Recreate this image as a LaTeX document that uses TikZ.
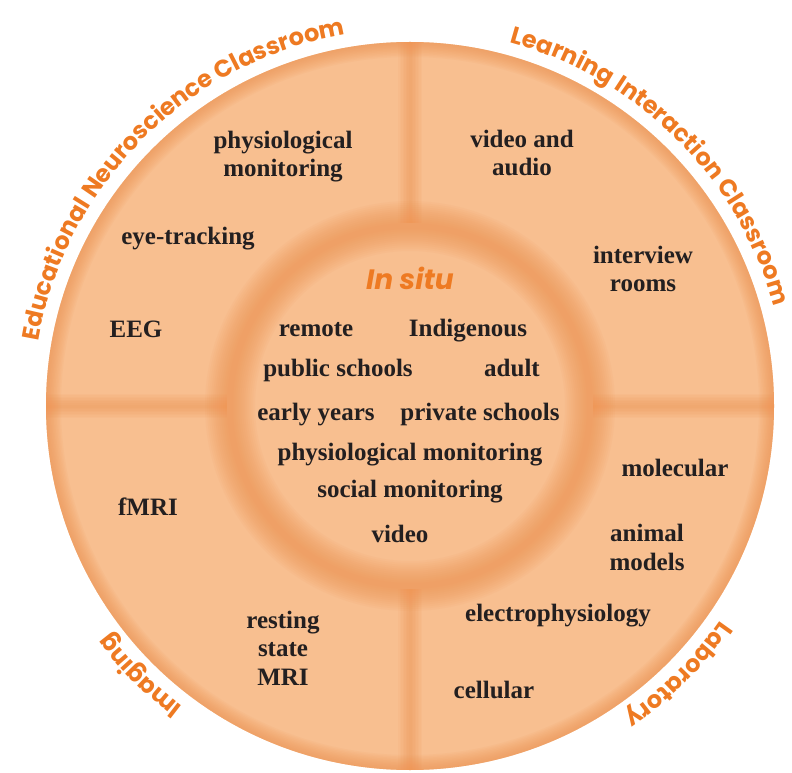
\documentclass[tikz,border=0pt]{standalone}
\usepackage{fontspec}
\setmainfont{Liberation Serif}
\newfontfamily\arcfont{Poppins}
\usetikzlibrary{decorations.text}
\definecolor{basefill}{HTML}{F8BF90}
\definecolor{edgeor}{HTML}{EF8F4C}
\definecolor{labelor}{HTML}{EE7A22}
\definecolor{inktext}{HTML}{231F20}
\tikzset{
  lbl/.style={font=\bfseries\fontsize{25}{28.5}\selectfont, text=inktext, align=center, inner sep=0pt, anchor=base},
  arclabel/.style={decorate, decoration={text along path, text align=center,
     text={|\arcfont\bfseries\fontsize{24}{28}\selectfont\color{labelor}|#1}}}
}
\begin{document}
\begin{tikzpicture}[x=1pt,y=1pt]
\useasboundingbox (0,0) rectangle (792,772);
\coordinate (C) at (410,366);
% outer disk
\fill[basefill] (C) circle[radius=364pt];
\begin{scope}
  \clip (C) circle[radius=364pt];
  \foreach \w in {30,27,...,3}
    \draw[edgeor, line width=\w pt, opacity=0.075] (C) circle[radius=364pt];
  \foreach \a in {0,90,180,270}{
    \foreach \w in {24,21,...,2}
      \draw[edgeor, line width=\w pt, opacity=0.065] ([shift={(\a:183)}]C) -- ([shift={(\a:364)}]C);
  }
  % inner disk
  \fill[basefill] (C) circle[radius=183pt];
  \foreach \w in {50,46,...,4}
    \draw[edgeor, line width=\w pt, opacity=0.065] (C) circle[radius=180pt];
\end{scope}

% curved labels
\path[arclabel={Educational Neuroscience Classroom}] ([shift={(180:377)}]C) arc[start angle=180, end angle=90, radius=377pt];
\path[arclabel={Learning Interaction Classroom}] ([shift={(90:377)}]C) arc[start angle=90, end angle=0, radius=377pt];
\path[arclabel={Laboratory}] ([shift={(0:377)}]C) arc[start angle=0, end angle=-90, radius=377pt];
\path[arclabel={Imaging}] ([shift={(270:377)}]C) arc[start angle=270, end angle=180, radius=377pt];

% centre
\node[font=\arcfont\bfseries\itshape\fontsize{28}{32}\selectfont, text=labelor, inner sep=0pt, anchor=base] (insitu) at (410,{772-290}) {In situ};
\node[lbl] (remote) at (316,{772-337}) {remote};
\node[lbl] (indig) at (468,{772-337}) {Indigenous};
\node[lbl] (public) at (338,{772-377}) {public schools};
\node[lbl] (adult) at (512,{772-377}) {adult};
\node[lbl] (early) at (316,{772-420}) {early years};
\node[lbl] (private) at (480,{772-420}) {private schools};
\node[lbl] (physmon) at (410,{772-460}) {physiological monitoring};
\node[lbl] (social) at (410,{772-497}) {social monitoring};
\node[lbl] (video) at (400,{772-542}) {video};

% top-left
\node[lbl] (physio) at (283,{772-177}) {physiological\\monitoring};
\node[lbl] (eye) at (188,{772-245}) {eye-tracking};
\node[lbl] (eeg) at (136,{772-338}) {EEG};
% top-right
\node[lbl] (va) at (522,{772-176}) {video and\\audio};
\node[lbl] (interview) at (643,{772-292}) {interview\\rooms};
% bottom-right
\node[lbl] (molecular) at (675,{772-476}) {molecular};
\node[lbl] (animal) at (647,{772-570}) {animal\\models};
\node[lbl] (electro) at (558,{772-621}) {electrophysiology};
\node[lbl] (cellular) at (494,{772-698}) {cellular};
% bottom-left
\node[lbl] (fmri) at (148,{772-515}) {fMRI};
\node[lbl] (resting) at (283,{772-685}) {resting\\state\\MRI};
\end{tikzpicture}
\end{document}
